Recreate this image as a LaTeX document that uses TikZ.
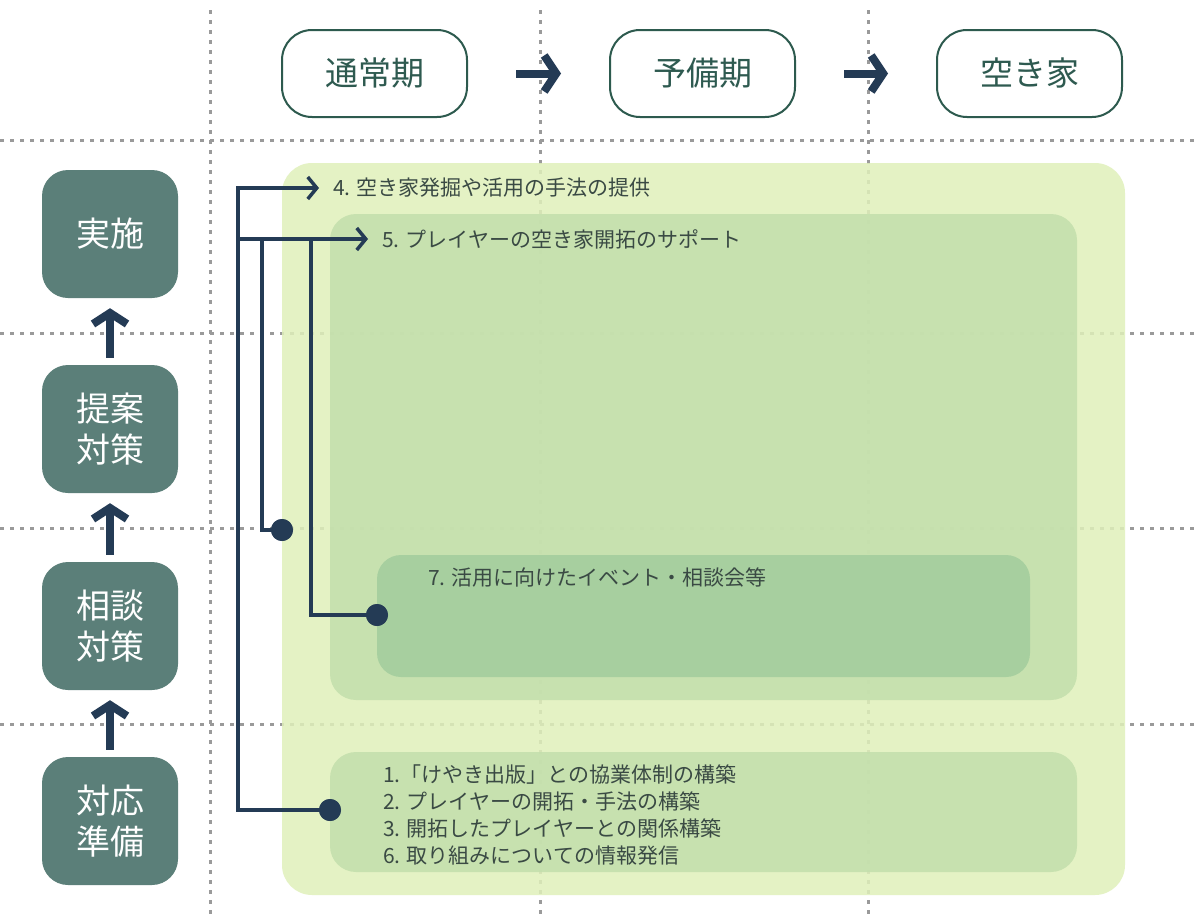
\documentclass[tikz,border=0pt]{standalone}
\usepackage{fontspec}
\newfontfamily\jp{Noto Sans CJK JP}
\usetikzlibrary{arrows.meta,calc}
\definecolor{gridgray}{HTML}{9A9A9A}
\definecolor{hdrline}{HTML}{2D5A4E}
\definecolor{hdrtext}{HTML}{2E5A50}
\definecolor{sidefill}{HTML}{5B7F79}
\definecolor{navy}{HTML}{243B55}
\definecolor{itemtext}{HTML}{3A4A44}
\definecolor{gbig}{RGB}{224,240,186}
\definecolor{gmid}{RGB}{195,223,172}
\definecolor{gin}{RGB}{162,205,157}
\begin{document}
\begin{tikzpicture}[x=1pt,y=-1pt,
  gridline/.style={draw=gridgray, line width=3pt, dash pattern=on 4pt off 6pt},
  hdr/.style={draw=hdrline, line width=2pt, rounded corners=30pt, fill=white,
    minimum width=185pt, minimum height=87pt, inner sep=0pt,
    font=\jp\fontsize{33}{38}\selectfont, text=hdrtext},
  side/.style={fill=sidefill, rounded corners=26pt, minimum width=136pt,
    minimum height=128pt, inner sep=0pt, text=white, align=center,
    font=\jp\fontsize{34}{41}\selectfont},
  harrow/.style={draw=navy, line width=8pt, -{Straight Barb[length=12pt,width=36pt]},
    shorten <=48pt, shorten >=48pt},
  uarrow/.style={draw=navy, line width=8pt, -{Straight Barb[length=11pt,width=34pt]},
    shorten <=7pt, shorten >=10pt},
  link/.style={draw=navy, line width=3.5pt},
  linkarrow/.style={link, -{Straight Barb[length=9pt,width=22pt]}, shorten >=14pt},
  dot/.style={circle, fill=navy, minimum size=22pt, inner sep=0pt},
  item/.style={anchor=west, text=itemtext, font=\jp\fontsize{21}{27}\selectfont,
    inner sep=0pt, align=left},
  bigbox/.style={fill=gbig, fill opacity=0.85, rounded corners=30pt},
  midbox/.style={fill=gmid, fill opacity=0.85, rounded corners=26pt},
  inbox/.style={fill=gin, fill opacity=0.85, rounded corners=24pt}
]
\useasboundingbox (0,0) rectangle (1195,918);
\fill[white] (0,0) rectangle (1195,918);

% grid
\foreach \x in {210,540,868} \draw[gridline] (\x,10) -- (\x,918);
\foreach \y in {140,333,528,724} \draw[gridline] (0,\y) -- (1195,\y);

% header
\node[hdr] (h1) at (374.5,73.5) {通常期};
\node[hdr] (h2) at (702.5,73.5) {予備期};
\node[hdr] (h3) at (1029.5,73.5) {空き家};
\draw[harrow] (h1.east) -- (h2.west);
\draw[harrow] (h2.east) -- (h3.west);

% side
\node[side] (s1) at (110,234) {実施};
\node[side] (s2) at (110,429) {提案\\対策};
\node[side] (s3) at (110,626) {相談\\対策};
\node[side] (s4) at (110,821) {対応\\準備};
\draw[uarrow] (s2.north) -- (s1.south);
\draw[uarrow] (s3.north) -- (s2.south);
\draw[uarrow] (s4.north) -- (s3.south);

% areas
\fill[bigbox] (282,163) rectangle (1125,895);
\fill[midbox] (330,214) rectangle (1077,700);
\fill[inbox] (377,555) rectangle (1030,677);
\fill[midbox] (330,752) rectangle (1077,872);

% texts
\node[item] (t4) at (333,188) {4. 空き家発掘や活用の手法の提供};
\node[item] (t5) at (382,239) {5. プレイヤーの空き家開拓のサポート};
\node[item] (t7) at (428,578) {7. 活用に向けたイベント・相談会等};
\node[item] (tB) at (383,815) {1.「けやき出版」との協業体制の構築\\2. プレイヤーの開拓・手法の構築\\3. 開拓したプレイヤーとの関係構築\\6. 取り組みについての情報発信};

% connectors
\node[dot] (d1) at (282,530) {};
\node[dot] (d7) at (377,615) {};
\node[dot] (dB) at (330,810) {};
\coordinate (sp) at (238,0);
\coordinate (j1) at (262,239);
\coordinate (j2) at (311,239);
\draw[linkarrow] (dB.center) -| (sp |- t4.west) -- (t4.west);
\draw[linkarrow] (sp |- t5.west) -- (t5.west);
\draw[link] (j1) |- (d1.center);
\draw[link] (j2) |- (d7.center);
\node[dot] at (d1) {};
\node[dot] at (d7) {};
\node[dot] at (dB) {};
\end{tikzpicture}
\end{document}
